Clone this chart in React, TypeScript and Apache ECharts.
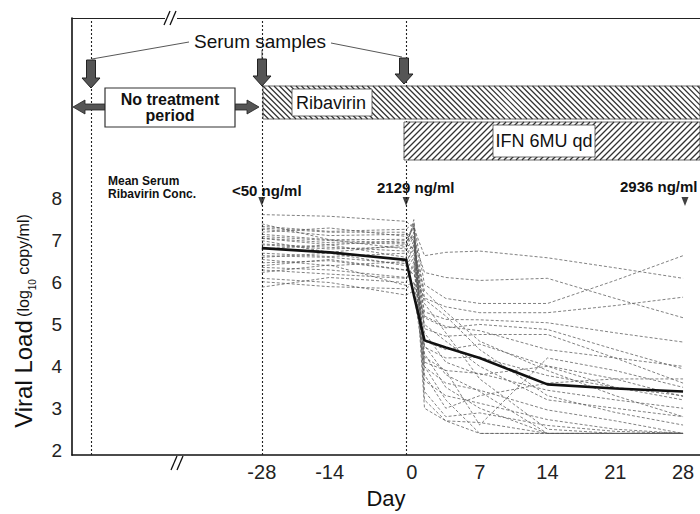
import React, { useEffect, useRef } from 'react';
import * as echarts from 'echarts';

// Sampling days and their position on the (compressed pre-treatment) axis
const sampleDays = [-28, -14, 0, 0.3, 1.3, 3.5, 7, 14, 21, 28];
const axisPos = [-15.5, -8.5, -0.6, 0.2, 1.3, 3.5, 7, 14, 21, 28];
const tickPos = [-15.5, -8.5, 0, 7, 14, 21, 28];
const tickText = ['-28', '-14', '0', '7', '14', '21', '28'];
const yTicks = [2, 3, 4, 5, 6, 7, 8];

const meanLoad = [6.82, 6.72, 6.54, 5.7, 4.62, 4.45, 4.2, 3.57, 3.47, 3.4];

const p1 = [7.62, 7.58, 7.46, 7.3, 6.64, 6.72, 6.75, 6.59, 6.35, 6.1];
const p2 = [7.34, 7.22, 7.27, 7.42, 5.95, 5.62, 5.5, 5.5, 6.05, 6.64];
const p3 = [7.27, 7.12, 7.15, 7.0, 6.24, 6.12, 6.05, 6.1, 5.62, 5.16];
const p4 = [7.15, 7.02, 7.03, 7.3, 5.63, 5.42, 5.28, 5.28, 5.45, 5.65];
const p5 = [7.06, 6.95, 6.92, 6.8, 5.3, 5.12, 5.11, 5.04, 4.8, 4.58];
const p6 = [6.92, 6.84, 6.75, 7.1, 5.16, 4.92, 5.0, 4.88, 4.4, 3.94];
const p7 = [6.64, 6.6, 6.45, 6.9, 4.9, 4.72, 4.76, 4.76, 4.2, 3.6];
const p8 = [6.47, 6.52, 6.29, 6.6, 4.6, 4.4, 4.53, 4.01, 3.7, 3.28];
const p9 = [6.36, 6.3, 6.12, 6.3, 4.46, 4.2, 4.22, 3.78, 3.5, 3.2];
const p10 = [6.24, 6.42, 5.93, 6.0, 4.22, 3.9, 3.83, 3.43, 3.2, 3.0];
const p11 = [6.1, 6.0, 5.7, 5.8, 3.99, 3.6, 3.43, 2.96, 2.7, 2.4];
const p12 = [5.89, 6.12, 6.0, 6.5, 3.66, 3.3, 3.12, 2.73, 2.5, 2.4];
const p13 = [7.4, 7.02, 6.8, 7.5, 3.4, 2.8, 2.89, 2.59, 2.45, 2.4];
const p14 = [7.2, 7.3, 7.1, 7.3, 3.2, 2.7, 2.66, 2.4, 2.4, 2.4];
const p15 = [7.0, 6.72, 6.9, 7.4, 4.0, 3.2, 2.4, 2.4, 2.4, 2.4];
const p16 = [6.8, 6.9, 6.6, 7.0, 4.3, 3.5, 3.0, 2.4, 2.4, 2.4];
const p17 = [6.7, 6.62, 6.7, 6.9, 5.5, 4.8, 3.7, 2.5, 2.4, 2.4];
const p18 = [6.55, 6.4, 6.5, 6.8, 5.8, 5.3, 4.6, 3.9, 3.3, 2.8];
const p19 = [6.9, 6.8, 6.85, 7.2, 4.8, 4.1, 3.8, 4.0, 3.5, 3.3];
const p20 = [7.1, 7.0, 6.95, 7.35, 3.8, 3.0, 3.3, 3.6, 3.7, 3.7];
const p21 = [6.3, 6.2, 6.1, 6.4, 5.0, 4.6, 4.0, 3.2, 3.0, 2.8];
const p22 = [6.02, 5.9, 5.85, 6.0, 5.2, 4.95, 4.85, 4.4, 4.2, 4.0];
const p23 = [7.3, 7.2, 7.2, 7.0, 3.0, 2.7, 2.4, 2.4, 2.4, 2.4];
const p24 = [6.6, 6.7, 6.4, 6.7, 4.5, 3.8, 3.4, 2.4, 2.4, 2.4];
const p25 = [6.4, 6.55, 6.3, 6.2, 5.6, 5.2, 4.4, 3.3, 2.9, 2.6];
const p26 = [7.05, 6.9, 7.0, 7.1, 4.1, 3.9, 2.6, 4.2, 3.9, 3.5];
const patients = [p1, p2, p3, p4, p5, p6, p7, p8, p9, p10, p11, p12, p13, p14, p15, p16, p17, p18, p19, p20, p21, p22, p23, p24, p25, p26];

// Serum sample dotted lines (axis positions) and concentration markers
const serumLinePos = [-33.15, -15.5, -0.6];
const concMarkPos = [-15.5, -0.6, 28.2];
const concLabels = ['<50 ng/ml', '2129 ng/ml', '2936 ng/ml'];

const FONT = 'Liberation Sans, Arial, Helvetica, sans-serif';

function hatch(x1: number, y1: number, x2: number, y2: number, step: number, dir: number, color: string, w: number) {
  const els: any[] = [];
  if (dir > 0) {
    for (let c = x1 - y2; c <= x2 - y1; c += step) {
      const ya = Math.max(y1, x1 - c);
      const yb = Math.min(y2, x2 - c);
      if (yb > ya) els.push({ type: 'line', z: 50, silent: true, shape: { x1: ya + c, y1: ya, x2: yb + c, y2: yb }, style: { stroke: color, lineWidth: w } });
    }
  } else {
    for (let c = x1 + y1; c <= x2 + y2; c += step) {
      const ya = Math.max(y1, c - x2);
      const yb = Math.min(y2, c - x1);
      if (yb > ya) els.push({ type: 'line', z: 50, silent: true, shape: { x1: c - ya, y1: ya, x2: c - yb, y2: yb }, style: { stroke: color, lineWidth: w } });
    }
  }
  return els;
}

function downArrow(cx: number, top: number, bottom: number) {
  const hh = 10;
  return {
    type: 'polygon', z: 60, silent: true,
    shape: { points: [[cx - 4.5, top], [cx + 4.5, top], [cx + 4.5, bottom - hh], [cx + 9, bottom - hh], [cx, bottom], [cx - 9, bottom - hh], [cx - 4.5, bottom - hh]] },
    style: { fill: '#555', stroke: '#222', lineWidth: 1 },
  };
}

function hArrow(tipX: number, baseX: number, cy: number) {
  const d = tipX < baseX ? 1 : -1;
  const headEnd = tipX + d * 12;
  return {
    type: 'polygon', z: 60, silent: true,
    shape: { points: [[tipX, cy], [headEnd, cy - 7], [headEnd, cy - 3], [baseX, cy - 3], [baseX, cy + 3], [headEnd, cy + 3], [headEnd, cy + 7]] },
    style: { fill: '#555', stroke: '#222', lineWidth: 0.8 },
  };
}

function breakMark(cx: number, cy: number) {
  return [
    { type: 'rect', z: 70, silent: true, shape: { x: cx - 6, y: cy - 4, width: 12, height: 8 }, style: { fill: '#fff' } },
    { type: 'line', z: 71, silent: true, shape: { x1: cx - 7, y1: cy + 7, x2: cx - 1, y2: cy - 7 }, style: { stroke: '#111', lineWidth: 1.3 } },
    { type: 'line', z: 71, silent: true, shape: { x1: cx - 1, y1: cy + 7, x2: cx + 5, y2: cy - 7 }, style: { stroke: '#111', lineWidth: 1.3 } },
  ];
}

export default function App() {
  const ref = useRef<HTMLDivElement>(null);
  useEffect(() => {
    if (!ref.current) return;
    const chart = echarts.init(ref.current, undefined, { renderer: 'svg' });

    const patientSeries = patients.map((p, k) => ({
      type: 'line',
      name: 'Patient ' + (k + 1),
      data: p.map((v, i) => [axisPos[i], v]),
      symbol: 'none',
      silent: true,
      z: 2,
      lineStyle: { color: '#5a5a5a', width: 0.9, type: [3, 2], opacity: 0.85 },
    }));

    const graphics: any[] = [
      ...breakMark(171, 18),
      ...breakMark(178, 463),
      // Serum samples
      { type: 'text', z: 60, x: 260, y: 41, style: { text: 'Serum samples', font: `19px ${FONT}`, fill: '#111', align: 'center', verticalAlign: 'middle' } },
      { type: 'line', z: 60, shape: { x1: 189, y1: 42, x2: 92, y2: 59 }, style: { stroke: '#444', lineWidth: 0.9 } },
      { type: 'line', z: 60, shape: { x1: 262, y1: 50, x2: 262, y2: 59 }, style: { stroke: '#444', lineWidth: 0.9 } },
      { type: 'line', z: 60, shape: { x1: 331, y1: 43, x2: 402, y2: 57 }, style: { stroke: '#444', lineWidth: 0.9 } },
      downArrow(91, 60, 88),
      downArrow(262, 59, 86),
      downArrow(404, 58, 84),
      // No treatment period
      hArrow(73, 105, 107),
      hArrow(259, 235, 107),
      { type: 'rect', z: 60, shape: { x: 105, y: 88, width: 130, height: 39 }, style: { fill: '#fff', stroke: '#333', lineWidth: 1.2 } },
      { type: 'text', z: 61, x: 170, y: 107, style: { text: 'No treatment\nperiod', font: `bold 16px ${FONT}`, lineHeight: 16, fill: '#111', align: 'center', verticalAlign: 'middle' } },
      // Ribavirin bar
      { type: 'rect', z: 49, shape: { x: 263, y: 86, width: 437, height: 33 }, style: { fill: '#fff', stroke: '#444', lineWidth: 0.8 } },
      ...hatch(263, 86, 700, 119, 5.5, 1, '#333', 1.2),
      { type: 'rect', z: 55, shape: { x: 292, y: 89, width: 80, height: 27 }, style: { fill: '#fff', stroke: '#444', lineWidth: 0.8 } },
      { type: 'text', z: 56, x: 296, y: 103, style: { text: 'Ribavirin', font: `18px ${FONT}`, fill: '#111', align: 'left', verticalAlign: 'middle' } },
      // IFN bar
      { type: 'rect', z: 49, shape: { x: 404, y: 122, width: 296, height: 38 }, style: { fill: '#fff', stroke: '#444', lineWidth: 0.8 } },
      ...hatch(404, 122, 700, 160, 6, -1, '#333', 1.3),
      { type: 'rect', z: 55, shape: { x: 493, y: 125, width: 102, height: 32 }, style: { fill: '#fff', stroke: '#444', lineWidth: 0.8 } },
      { type: 'text', z: 56, x: 544, y: 141, style: { text: 'IFN 6MU qd', font: `18px ${FONT}`, fill: '#111', align: 'center', verticalAlign: 'middle' } },
      // Concentration texts
      { type: 'text', z: 60, x: 108, y: 187, style: { text: 'Mean Serum\nRibavirin Conc.', font: `bold 12px ${FONT}`, lineHeight: 13, fill: '#111', align: 'left', verticalAlign: 'middle' } },
      { type: 'text', z: 60, x: 232, y: 190, style: { text: concLabels[0], font: `bold 15px ${FONT}`, fill: '#111', align: 'left', verticalAlign: 'middle' } },
      { type: 'text', z: 60, x: 377, y: 187, style: { text: concLabels[1], font: `bold 15px ${FONT}`, fill: '#111', align: 'left', verticalAlign: 'middle' } },
      { type: 'text', z: 60, x: 620, y: 186, style: { text: concLabels[2], font: `bold 15px ${FONT}`, fill: '#111', align: 'left', verticalAlign: 'middle' } },
      // Y axis name
      {
        type: 'text', z: 60, x: 23, y: 321, rotation: Math.PI / 2,
        style: {
          text: '{a|Viral Load} {b|(log}{c|10}{b| copy/ml)}',
          align: 'center', verticalAlign: 'middle', fill: '#111',
          rich: {
            a: { fontSize: 24, fontFamily: FONT, lineHeight: 28, fill: '#111' },
            b: { fontSize: 16, fontFamily: FONT, fill: '#111' },
            c: { fontSize: 10, fontFamily: FONT, lineHeight: 14, verticalAlign: 'bottom', fill: '#111' },
          },
        },
      },
    ];

    const option: any = {
      animation: false,
      backgroundColor: '#fff',
      grid: { left: 72, right: 0, top: 18, bottom: 51, containLabel: false },
      xAxis: [
        {
          type: 'value', min: -35.1, max: 29.75,
          axisLine: { show: true, lineStyle: { color: '#111', width: 1.5 } },
          axisTick: { show: false },
          splitLine: { show: false },
          axisLabel: {
            customValues: tickPos,
            margin: 7, fontSize: 20, color: '#222', fontFamily: FONT,
            formatter: (v: number) => {
              let best = 0;
              for (let i = 0; i < tickPos.length; i++) if (Math.abs(tickPos[i] - v) < Math.abs(tickPos[best] - v)) best = i;
              return tickText[best];
            },
          },
          name: 'Day', nameLocation: 'middle', nameGap: 28,
          nameTextStyle: { fontSize: 22, color: '#111', fontFamily: FONT },
        },
        {
          type: 'value', position: 'top', min: -35.1, max: 29.75,
          axisLine: { show: true, onZero: false, lineStyle: { color: '#222', width: 1 } },
          axisTick: { show: false }, axisLabel: { show: false }, splitLine: { show: false },
        },
      ],
      yAxis: {
        type: 'value', min: 1.883, max: 12.31,
        axisLine: { show: true, onZero: false, lineStyle: { color: '#111', width: 1.6 } },
        axisTick: { show: false },
        splitLine: { show: false },
        axisLabel: { customValues: yTicks, margin: 10, fontSize: 19, color: '#222', fontFamily: FONT },
      },
      series: [
        ...patientSeries,
        {
          type: 'line', name: 'Mean',
          data: meanLoad.map((v, i) => [axisPos[i], v]),
          symbol: 'none', silent: true, z: 5,
          lineStyle: { color: '#111', width: 2.6 },
          markLine: {
            silent: true, symbol: ['none', 'none'], label: { show: false },
            lineStyle: { color: '#222', width: 1.1, type: [2, 2] },
            data: serumLinePos.map((x) => ({ xAxis: x })),
          },
        },
        {
          type: 'scatter', name: 'Conc',
          data: concMarkPos.map((x) => [x, 7.93]),
          symbol: 'triangle', symbolRotate: 180, symbolSize: [7, 9], silent: true, z: 6,
          itemStyle: { color: '#111' },
        },
      ],
      graphic: graphics,
    };
    chart.setOption(option);
    return () => chart.dispose();
  }, []);
  return <div ref={ref} style={{ position: 'absolute', left: 0, top: 0, width: 700, height: 514 }} />;
}
